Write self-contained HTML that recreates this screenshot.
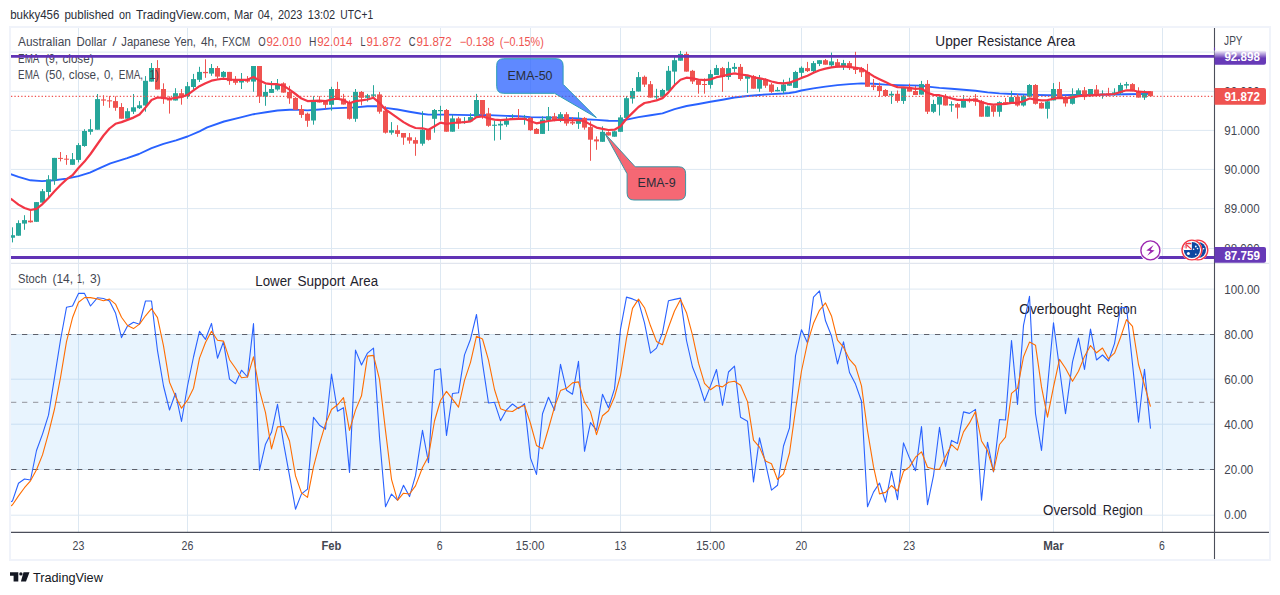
<!DOCTYPE html>
<html lang="en"><head><meta charset="utf-8"><title>AUDJPY 4h chart</title>
<style>html,body{margin:0;padding:0;background:#fff}body{width:1280px;height:595px;overflow:hidden}svg{display:block}text{font-family:"Liberation Sans", Arial, sans-serif}</style></head><body>
<svg width="1280" height="595" viewBox="0 0 1280 595">
<rect width="1280" height="595" fill="#fff"/>
<defs><clipPath id="cm"><rect x="11" y="28" width="1203" height="235.5"/></clipPath><clipPath id="cs"><rect x="11" y="264" width="1203" height="268"/></clipPath><linearGradient id="pg" x1="0" y1="0" x2="0" y2="1"><stop offset="0" stop-color="#fff"/><stop offset="0.55" stop-color="#673ab7"/><stop offset="1" stop-color="#673ab7"/></linearGradient></defs>
<g font-size="12.4" fill="#2a2e39">
<text x="10.2" y="18.8" textLength="49.2" lengthAdjust="spacingAndGlyphs">bukky456</text>
<text x="64.4" y="18.8" textLength="49.6" lengthAdjust="spacingAndGlyphs">published</text>
<text x="119.0" y="18.8" textLength="12.0" lengthAdjust="spacingAndGlyphs">on</text>
<text x="136.0" y="18.8" textLength="93.7" lengthAdjust="spacingAndGlyphs">TradingView.com,</text>
<text x="234.0" y="18.8" textLength="19.0" lengthAdjust="spacingAndGlyphs">Mar</text>
<text x="257.8" y="18.8" textLength="15.2" lengthAdjust="spacingAndGlyphs">04,</text>
<text x="278.0" y="18.8" textLength="24.3" lengthAdjust="spacingAndGlyphs">2023</text>
<text x="307.8" y="18.8" textLength="27.4" lengthAdjust="spacingAndGlyphs">13:02</text>
<text x="340.3" y="18.8" textLength="32.8" lengthAdjust="spacingAndGlyphs">UTC+1</text>
</g>
<line x1="78.5" y1="27.5" x2="78.5" y2="532" stroke="#dde8f2" stroke-width="1"/>
<line x1="187.5" y1="27.5" x2="187.5" y2="532" stroke="#dde8f2" stroke-width="1"/>
<line x1="331.5" y1="27.5" x2="331.5" y2="532" stroke="#dde8f2" stroke-width="1"/>
<line x1="440.5" y1="27.5" x2="440.5" y2="532" stroke="#dde8f2" stroke-width="1"/>
<line x1="530.5" y1="27.5" x2="530.5" y2="532" stroke="#dde8f2" stroke-width="1"/>
<line x1="620.5" y1="27.5" x2="620.5" y2="532" stroke="#dde8f2" stroke-width="1"/>
<line x1="710.5" y1="27.5" x2="710.5" y2="532" stroke="#dde8f2" stroke-width="1"/>
<line x1="801.5" y1="27.5" x2="801.5" y2="532" stroke="#dde8f2" stroke-width="1"/>
<line x1="909.5" y1="27.5" x2="909.5" y2="532" stroke="#dde8f2" stroke-width="1"/>
<line x1="1053.5" y1="27.5" x2="1053.5" y2="532" stroke="#dde8f2" stroke-width="1"/>
<line x1="1162.5" y1="27.5" x2="1162.5" y2="532" stroke="#dde8f2" stroke-width="1"/>
<line x1="11" y1="52.1" x2="1214" y2="52.1" stroke="#dde8f2" stroke-width="1"/>
<line x1="11" y1="91.3" x2="1214" y2="91.3" stroke="#dde8f2" stroke-width="1"/>
<line x1="11" y1="130.4" x2="1214" y2="130.4" stroke="#dde8f2" stroke-width="1"/>
<line x1="11" y1="169.4" x2="1214" y2="169.4" stroke="#dde8f2" stroke-width="1"/>
<line x1="11" y1="208.6" x2="1214" y2="208.6" stroke="#dde8f2" stroke-width="1"/>
<line x1="11" y1="248.5" x2="1214" y2="248.5" stroke="#dde8f2" stroke-width="1"/>
<line x1="11" y1="289.1" x2="1214" y2="289.1" stroke="#dde8f2" stroke-width="1"/>
<line x1="11" y1="334.5" x2="1214" y2="334.5" stroke="#dde8f2" stroke-width="1"/>
<line x1="11" y1="379.2" x2="1214" y2="379.2" stroke="#dde8f2" stroke-width="1"/>
<line x1="11" y1="424.2" x2="1214" y2="424.2" stroke="#dde8f2" stroke-width="1"/>
<line x1="11" y1="469.5" x2="1214" y2="469.5" stroke="#dde8f2" stroke-width="1"/>
<line x1="11" y1="515.2" x2="1214" y2="515.2" stroke="#dde8f2" stroke-width="1"/>
<rect x="11" y="334.5" width="1203.5" height="135" fill="rgba(33,150,243,0.1)"/>
<line x1="11" y1="263.4" x2="1269" y2="263.4" stroke="#e1e5ee" stroke-width="1.2"/>
<line x1="11" y1="334.5" x2="1214" y2="334.5" stroke="#5d606b" stroke-width="1.2" stroke-dasharray="5.3 5.7"/>
<line x1="11" y1="469.5" x2="1214" y2="469.5" stroke="#5d606b" stroke-width="1.2" stroke-dasharray="5.3 5.7"/>
<line x1="11" y1="402.4" x2="1214" y2="402.4" stroke="#a3a6af" stroke-width="1.2" stroke-dasharray="5.3 5.7"/>
<g clip-path="url(#cm)">
<polyline points="6.6,172.7 10.4,174.0 18.5,176.9 30.4,180.3 42.0,181.1 54.5,180.3 66.6,178.6 78.5,176.1 89.9,172.7 100.8,167.6 110.4,163.3 127.2,158.2 139.0,154.0 151.6,148.2 163.5,143.9 176.0,140.3 187.5,136.5 199.5,131.3 207.2,127.4 224.0,121.5 240.8,117.3 253.6,114.2 266.0,112.2 277.5,110.5 289.6,109.8 299.7,109.9 307.4,110.4 319.5,109.5 331.4,108.4 343.5,107.9 355.5,107.4 367.4,106.3 377.5,106.2 385.5,107.9 397.5,109.5 409.4,111.7 421.5,113.7 428.4,114.6 439.7,114.6 446.6,114.6 458.5,114.9 470.4,115.1 482.5,114.9 494.5,115.4 506.6,115.9 518.5,116.3 530.4,117.1 542.5,117.4 554.5,117.6 566.6,117.9 578.5,118.5 584.5,119.2 596.5,119.9 608.6,120.8 614.5,120.9 620.5,120.8 626.6,119.6 638.5,117.1 650.6,115.2 662.5,113.4 674.6,109.2 686.6,106.0 698.5,104.0 710.4,101.8 722.5,99.7 734.5,97.5 747.6,96.0 759.5,95.0 771.6,94.1 783.5,93.5 789.4,93.0 795.6,92.0 801.3,90.5 813.4,88.4 825.4,86.6 837.5,85.1 849.4,84.1 861.5,83.4 873.4,83.7 885.5,84.6 897.5,85.1 909.4,85.4 921.5,85.6 927.6,86.6 939.5,87.9 951.4,88.7 963.5,89.8 975.5,90.8 987.6,92.4 999.5,93.4 1011.6,94.0 1023.5,94.5 1035.5,94.9 1047.6,95.3 1060.5,95.1 1072.4,95.0 1084.5,94.9 1100.0,94.7 1126.0,94.3 1150.4,93.9" fill="none" stroke="#2962ff" stroke-width="1.9" stroke-linejoin="round"/>
<line x1="12.50" y1="227.3" x2="12.50" y2="242.4" stroke="#26a69a" stroke-width="1"/>
<rect x="10.00" y="235.2" width="5" height="2.5" fill="#26a69a"/>
<line x1="18.50" y1="220.3" x2="18.50" y2="235.7" stroke="#26a69a" stroke-width="1"/>
<rect x="16.00" y="223.1" width="5" height="12.6" fill="#26a69a"/>
<line x1="24.50" y1="215.2" x2="24.50" y2="229.8" stroke="#26a69a" stroke-width="1"/>
<rect x="22.00" y="220.1" width="5" height="3.5" fill="#26a69a"/>
<line x1="30.50" y1="210.8" x2="30.50" y2="222.6" stroke="#ef5350" stroke-width="1"/>
<rect x="28.00" y="220.6" width="5" height="1.7" fill="#ef5350"/>
<line x1="36.50" y1="202.1" x2="36.50" y2="221.8" stroke="#26a69a" stroke-width="1"/>
<rect x="34.00" y="202.1" width="5" height="19.7" fill="#26a69a"/>
<line x1="42.50" y1="189.0" x2="42.50" y2="202.6" stroke="#26a69a" stroke-width="1"/>
<rect x="40.00" y="191.2" width="5" height="11.4" fill="#26a69a"/>
<line x1="48.50" y1="175.2" x2="48.50" y2="197.0" stroke="#26a69a" stroke-width="1"/>
<rect x="46.00" y="179.4" width="5" height="12.6" fill="#26a69a"/>
<line x1="54.50" y1="157.9" x2="54.50" y2="184.8" stroke="#26a69a" stroke-width="1"/>
<rect x="52.00" y="157.9" width="5" height="22.7" fill="#26a69a"/>
<line x1="60.50" y1="152.0" x2="60.50" y2="161.4" stroke="#ef5350" stroke-width="1"/>
<rect x="58.00" y="157.9" width="5" height="1.0" fill="#ef5350"/>
<line x1="66.50" y1="155.0" x2="66.50" y2="164.8" stroke="#ef5350" stroke-width="1"/>
<rect x="64.00" y="158.7" width="5" height="1.0" fill="#ef5350"/>
<line x1="72.50" y1="153.0" x2="72.50" y2="164.8" stroke="#26a69a" stroke-width="1"/>
<rect x="70.00" y="159.2" width="5" height="5.6" fill="#26a69a"/>
<line x1="78.50" y1="143.1" x2="78.50" y2="162.4" stroke="#26a69a" stroke-width="1"/>
<rect x="76.00" y="145.1" width="5" height="14.8" fill="#26a69a"/>
<line x1="84.50" y1="129.2" x2="84.50" y2="146.8" stroke="#26a69a" stroke-width="1"/>
<rect x="82.00" y="131.0" width="5" height="15.0" fill="#26a69a"/>
<line x1="90.50" y1="119.2" x2="90.50" y2="134.7" stroke="#26a69a" stroke-width="1"/>
<rect x="88.00" y="129.2" width="5" height="2.6" fill="#26a69a"/>
<line x1="97.50" y1="94.0" x2="97.50" y2="129.7" stroke="#26a69a" stroke-width="1"/>
<rect x="95.00" y="99.1" width="5" height="30.6" fill="#26a69a"/>
<line x1="103.50" y1="95.2" x2="103.50" y2="105.8" stroke="#ef5350" stroke-width="1"/>
<rect x="101.00" y="99.4" width="5" height="1.2" fill="#ef5350"/>
<line x1="109.50" y1="96.0" x2="109.50" y2="107.8" stroke="#ef5350" stroke-width="1"/>
<rect x="107.00" y="100.3" width="5" height="1.1" fill="#ef5350"/>
<line x1="115.50" y1="96.4" x2="115.50" y2="110.8" stroke="#ef5350" stroke-width="1"/>
<rect x="113.00" y="101.1" width="5" height="6.7" fill="#ef5350"/>
<line x1="121.50" y1="103.1" x2="121.50" y2="118.7" stroke="#ef5350" stroke-width="1"/>
<rect x="119.00" y="107.0" width="5" height="11.7" fill="#ef5350"/>
<line x1="127.50" y1="108.2" x2="127.50" y2="118.7" stroke="#26a69a" stroke-width="1"/>
<rect x="125.00" y="111.2" width="5" height="7.5" fill="#26a69a"/>
<line x1="133.50" y1="94.0" x2="133.50" y2="114.0" stroke="#26a69a" stroke-width="1"/>
<rect x="131.00" y="107.3" width="5" height="4.4" fill="#26a69a"/>
<line x1="139.50" y1="101.1" x2="139.50" y2="109.0" stroke="#26a69a" stroke-width="1"/>
<rect x="137.00" y="105.3" width="5" height="2.9" fill="#26a69a"/>
<line x1="145.50" y1="76.1" x2="145.50" y2="111.7" stroke="#26a69a" stroke-width="1"/>
<rect x="143.00" y="80.8" width="5" height="24.7" fill="#26a69a"/>
<line x1="151.50" y1="63.0" x2="151.50" y2="81.6" stroke="#26a69a" stroke-width="1"/>
<rect x="149.00" y="68.0" width="5" height="13.6" fill="#26a69a"/>
<line x1="157.50" y1="60.1" x2="157.50" y2="89.5" stroke="#ef5350" stroke-width="1"/>
<rect x="155.00" y="68.0" width="5" height="21.5" fill="#ef5350"/>
<line x1="163.50" y1="83.3" x2="163.50" y2="103.8" stroke="#ef5350" stroke-width="1"/>
<rect x="161.00" y="89.0" width="5" height="10.1" fill="#ef5350"/>
<line x1="169.50" y1="96.3" x2="169.50" y2="113.6" stroke="#ef5350" stroke-width="1"/>
<rect x="167.00" y="98.0" width="5" height="2.5" fill="#ef5350"/>
<line x1="175.50" y1="88.2" x2="175.50" y2="100.5" stroke="#26a69a" stroke-width="1"/>
<rect x="173.00" y="93.2" width="5" height="7.3" fill="#26a69a"/>
<line x1="181.50" y1="89.0" x2="181.50" y2="104.7" stroke="#ef5350" stroke-width="1"/>
<rect x="179.00" y="93.2" width="5" height="4.2" fill="#ef5350"/>
<line x1="187.50" y1="82.0" x2="187.50" y2="98.8" stroke="#26a69a" stroke-width="1"/>
<rect x="185.00" y="86.2" width="5" height="10.1" fill="#26a69a"/>
<line x1="193.50" y1="73.9" x2="193.50" y2="89.5" stroke="#26a69a" stroke-width="1"/>
<rect x="191.00" y="79.1" width="5" height="7.9" fill="#26a69a"/>
<line x1="199.50" y1="66.8" x2="199.50" y2="82.0" stroke="#26a69a" stroke-width="1"/>
<rect x="197.00" y="71.9" width="5" height="7.9" fill="#26a69a"/>
<line x1="205.50" y1="59.3" x2="205.50" y2="77.8" stroke="#ef5350" stroke-width="1"/>
<rect x="203.00" y="71.9" width="5" height="1.3" fill="#ef5350"/>
<line x1="211.50" y1="64.0" x2="211.50" y2="75.8" stroke="#26a69a" stroke-width="1"/>
<rect x="209.00" y="68.0" width="5" height="5.6" fill="#26a69a"/>
<line x1="217.50" y1="66.0" x2="217.50" y2="78.6" stroke="#ef5350" stroke-width="1"/>
<rect x="215.00" y="68.0" width="5" height="8.6" fill="#ef5350"/>
<line x1="223.50" y1="71.0" x2="223.50" y2="77.8" stroke="#26a69a" stroke-width="1"/>
<rect x="221.00" y="71.9" width="5" height="5.0" fill="#26a69a"/>
<line x1="229.50" y1="71.9" x2="229.50" y2="84.8" stroke="#ef5350" stroke-width="1"/>
<rect x="227.00" y="71.9" width="5" height="9.2" fill="#ef5350"/>
<line x1="235.50" y1="76.1" x2="235.50" y2="84.8" stroke="#ef5350" stroke-width="1"/>
<rect x="233.00" y="79.8" width="5" height="3.0" fill="#ef5350"/>
<line x1="241.50" y1="73.0" x2="241.50" y2="89.0" stroke="#26a69a" stroke-width="1"/>
<rect x="239.00" y="80.3" width="5" height="2.2" fill="#26a69a"/>
<line x1="247.50" y1="76.1" x2="247.50" y2="82.8" stroke="#ef5350" stroke-width="1"/>
<rect x="245.00" y="79.5" width="5" height="2.1" fill="#ef5350"/>
<line x1="253.50" y1="66.0" x2="253.50" y2="91.7" stroke="#26a69a" stroke-width="1"/>
<rect x="251.00" y="66.0" width="5" height="15.6" fill="#26a69a"/>
<line x1="259.50" y1="66.0" x2="259.50" y2="103.0" stroke="#ef5350" stroke-width="1"/>
<rect x="257.00" y="66.0" width="5" height="30.6" fill="#ef5350"/>
<line x1="265.50" y1="84.5" x2="265.50" y2="105.8" stroke="#26a69a" stroke-width="1"/>
<rect x="263.00" y="92.0" width="5" height="4.6" fill="#26a69a"/>
<line x1="271.50" y1="81.1" x2="271.50" y2="92.9" stroke="#26a69a" stroke-width="1"/>
<rect x="269.00" y="89.0" width="5" height="3.9" fill="#26a69a"/>
<line x1="277.50" y1="79.0" x2="277.50" y2="90.7" stroke="#26a69a" stroke-width="1"/>
<rect x="275.00" y="84.0" width="5" height="5.5" fill="#26a69a"/>
<line x1="283.50" y1="82.3" x2="283.50" y2="92.6" stroke="#ef5350" stroke-width="1"/>
<rect x="281.00" y="83.3" width="5" height="9.3" fill="#ef5350"/>
<line x1="289.50" y1="85.8" x2="289.50" y2="103.8" stroke="#ef5350" stroke-width="1"/>
<rect x="287.00" y="92.0" width="5" height="6.4" fill="#ef5350"/>
<line x1="295.50" y1="97.1" x2="295.50" y2="109.7" stroke="#ef5350" stroke-width="1"/>
<rect x="293.00" y="97.9" width="5" height="11.8" fill="#ef5350"/>
<line x1="301.50" y1="105.0" x2="301.50" y2="117.9" stroke="#ef5350" stroke-width="1"/>
<rect x="299.00" y="109.0" width="5" height="5.9" fill="#ef5350"/>
<line x1="307.50" y1="112.6" x2="307.50" y2="126.8" stroke="#ef5350" stroke-width="1"/>
<rect x="305.00" y="113.7" width="5" height="7.1" fill="#ef5350"/>
<line x1="313.50" y1="96.1" x2="313.50" y2="124.7" stroke="#26a69a" stroke-width="1"/>
<rect x="311.00" y="101.6" width="5" height="18.9" fill="#26a69a"/>
<line x1="319.50" y1="96.1" x2="319.50" y2="102.5" stroke="#ef5350" stroke-width="1"/>
<rect x="317.00" y="100.3" width="5" height="2.2" fill="#ef5350"/>
<line x1="325.50" y1="100.3" x2="325.50" y2="108.7" stroke="#ef5350" stroke-width="1"/>
<rect x="323.00" y="101.1" width="5" height="3.7" fill="#ef5350"/>
<line x1="331.50" y1="86.8" x2="331.50" y2="110.7" stroke="#26a69a" stroke-width="1"/>
<rect x="329.00" y="89.0" width="5" height="15.8" fill="#26a69a"/>
<line x1="337.50" y1="81.8" x2="337.50" y2="98.6" stroke="#ef5350" stroke-width="1"/>
<rect x="335.00" y="89.0" width="5" height="9.6" fill="#ef5350"/>
<line x1="343.50" y1="93.9" x2="343.50" y2="104.5" stroke="#ef5350" stroke-width="1"/>
<rect x="341.00" y="98.6" width="5" height="5.9" fill="#ef5350"/>
<line x1="349.50" y1="100.3" x2="349.50" y2="119.6" stroke="#ef5350" stroke-width="1"/>
<rect x="347.00" y="102.8" width="5" height="16.0" fill="#ef5350"/>
<line x1="355.50" y1="89.0" x2="355.50" y2="121.8" stroke="#26a69a" stroke-width="1"/>
<rect x="353.00" y="91.9" width="5" height="26.9" fill="#26a69a"/>
<line x1="361.50" y1="91.0" x2="361.50" y2="105.3" stroke="#ef5350" stroke-width="1"/>
<rect x="359.00" y="91.9" width="5" height="5.9" fill="#ef5350"/>
<line x1="367.50" y1="93.9" x2="367.50" y2="101.6" stroke="#26a69a" stroke-width="1"/>
<rect x="365.00" y="95.3" width="5" height="2.5" fill="#26a69a"/>
<line x1="373.50" y1="85.2" x2="373.50" y2="97.8" stroke="#26a69a" stroke-width="1"/>
<rect x="371.00" y="94.4" width="5" height="1.4" fill="#26a69a"/>
<line x1="379.50" y1="91.9" x2="379.50" y2="113.7" stroke="#ef5350" stroke-width="1"/>
<rect x="377.00" y="94.4" width="5" height="17.3" fill="#ef5350"/>
<line x1="385.50" y1="106.2" x2="385.50" y2="133.6" stroke="#ef5350" stroke-width="1"/>
<rect x="383.00" y="110.7" width="5" height="22.0" fill="#ef5350"/>
<line x1="391.50" y1="122.1" x2="391.50" y2="134.7" stroke="#26a69a" stroke-width="1"/>
<rect x="389.00" y="130.2" width="5" height="2.5" fill="#26a69a"/>
<line x1="397.50" y1="125.2" x2="397.50" y2="136.8" stroke="#ef5350" stroke-width="1"/>
<rect x="395.00" y="130.2" width="5" height="3.7" fill="#ef5350"/>
<line x1="403.50" y1="133.0" x2="403.50" y2="144.8" stroke="#ef5350" stroke-width="1"/>
<rect x="401.00" y="133.0" width="5" height="4.6" fill="#ef5350"/>
<line x1="409.50" y1="133.0" x2="409.50" y2="143.7" stroke="#ef5350" stroke-width="1"/>
<rect x="407.00" y="137.3" width="5" height="3.3" fill="#ef5350"/>
<line x1="415.50" y1="137.3" x2="415.50" y2="155.8" stroke="#ef5350" stroke-width="1"/>
<rect x="413.00" y="140.1" width="5" height="3.6" fill="#ef5350"/>
<line x1="422.50" y1="111.2" x2="422.50" y2="145.7" stroke="#26a69a" stroke-width="1"/>
<rect x="420.00" y="129.7" width="5" height="14.0" fill="#26a69a"/>
<line x1="428.50" y1="129.7" x2="428.50" y2="140.6" stroke="#ef5350" stroke-width="1"/>
<rect x="426.00" y="129.7" width="5" height="10.1" fill="#ef5350"/>
<line x1="434.50" y1="109.0" x2="434.50" y2="132.7" stroke="#26a69a" stroke-width="1"/>
<rect x="432.00" y="110.0" width="5" height="8.8" fill="#26a69a"/>
<line x1="440.50" y1="105.8" x2="440.50" y2="120.5" stroke="#26a69a" stroke-width="1"/>
<rect x="438.00" y="110.0" width="5" height="1.2" fill="#26a69a"/>
<line x1="446.50" y1="109.0" x2="446.50" y2="131.7" stroke="#ef5350" stroke-width="1"/>
<rect x="444.00" y="110.0" width="5" height="21.7" fill="#ef5350"/>
<line x1="452.50" y1="114.9" x2="452.50" y2="131.7" stroke="#26a69a" stroke-width="1"/>
<rect x="450.00" y="118.4" width="5" height="13.3" fill="#26a69a"/>
<line x1="458.50" y1="116.8" x2="458.50" y2="128.9" stroke="#ef5350" stroke-width="1"/>
<rect x="456.00" y="118.4" width="5" height="5.1" fill="#ef5350"/>
<line x1="464.50" y1="117.1" x2="464.50" y2="123.8" stroke="#26a69a" stroke-width="1"/>
<rect x="462.00" y="121.3" width="5" height="1.3" fill="#26a69a"/>
<line x1="470.50" y1="113.2" x2="470.50" y2="121.3" stroke="#26a69a" stroke-width="1"/>
<rect x="468.00" y="117.1" width="5" height="4.2" fill="#26a69a"/>
<line x1="476.50" y1="93.9" x2="476.50" y2="116.8" stroke="#26a69a" stroke-width="1"/>
<rect x="474.00" y="100.0" width="5" height="16.8" fill="#26a69a"/>
<line x1="482.50" y1="100.0" x2="482.50" y2="118.8" stroke="#ef5350" stroke-width="1"/>
<rect x="480.00" y="100.0" width="5" height="14.6" fill="#ef5350"/>
<line x1="488.50" y1="107.9" x2="488.50" y2="126.8" stroke="#ef5350" stroke-width="1"/>
<rect x="486.00" y="113.4" width="5" height="12.4" fill="#ef5350"/>
<line x1="494.50" y1="120.5" x2="494.50" y2="140.6" stroke="#26a69a" stroke-width="1"/>
<rect x="492.00" y="124.7" width="5" height="1.1" fill="#26a69a"/>
<line x1="500.50" y1="121.0" x2="500.50" y2="139.8" stroke="#26a69a" stroke-width="1"/>
<rect x="498.00" y="123.8" width="5" height="1.7" fill="#26a69a"/>
<line x1="506.50" y1="117.1" x2="506.50" y2="126.8" stroke="#26a69a" stroke-width="1"/>
<rect x="504.00" y="120.5" width="5" height="4.2" fill="#26a69a"/>
<line x1="512.50" y1="114.2" x2="512.50" y2="119.1" stroke="#26a69a" stroke-width="1"/>
<rect x="510.00" y="117.9" width="5" height="1.2" fill="#26a69a"/>
<line x1="518.50" y1="109.0" x2="518.50" y2="119.1" stroke="#ef5350" stroke-width="1"/>
<rect x="516.00" y="117.9" width="5" height="1.2" fill="#ef5350"/>
<line x1="524.50" y1="114.9" x2="524.50" y2="124.7" stroke="#26a69a" stroke-width="1"/>
<rect x="522.00" y="117.9" width="5" height="1.0" fill="#26a69a"/>
<line x1="530.50" y1="117.1" x2="530.50" y2="130.9" stroke="#ef5350" stroke-width="1"/>
<rect x="528.00" y="117.9" width="5" height="12.3" fill="#ef5350"/>
<line x1="536.50" y1="128.0" x2="536.50" y2="133.9" stroke="#ef5350" stroke-width="1"/>
<rect x="534.00" y="128.9" width="5" height="5.0" fill="#ef5350"/>
<line x1="542.50" y1="116.3" x2="542.50" y2="133.9" stroke="#26a69a" stroke-width="1"/>
<rect x="540.00" y="119.6" width="5" height="14.3" fill="#26a69a"/>
<line x1="548.50" y1="107.0" x2="548.50" y2="130.9" stroke="#26a69a" stroke-width="1"/>
<rect x="546.00" y="116.3" width="5" height="4.2" fill="#26a69a"/>
<line x1="554.50" y1="112.9" x2="554.50" y2="121.3" stroke="#ef5350" stroke-width="1"/>
<rect x="552.00" y="116.3" width="5" height="4.5" fill="#ef5350"/>
<line x1="560.50" y1="112.1" x2="560.50" y2="122.1" stroke="#26a69a" stroke-width="1"/>
<rect x="558.00" y="114.2" width="5" height="5.4" fill="#26a69a"/>
<line x1="566.50" y1="112.1" x2="566.50" y2="125.8" stroke="#ef5350" stroke-width="1"/>
<rect x="564.00" y="114.2" width="5" height="9.3" fill="#ef5350"/>
<line x1="572.50" y1="117.1" x2="572.50" y2="125.0" stroke="#ef5350" stroke-width="1"/>
<rect x="570.00" y="122.1" width="5" height="1.4" fill="#ef5350"/>
<line x1="578.50" y1="112.1" x2="578.50" y2="128.9" stroke="#26a69a" stroke-width="1"/>
<rect x="576.00" y="119.6" width="5" height="4.2" fill="#26a69a"/>
<line x1="584.50" y1="117.1" x2="584.50" y2="129.7" stroke="#ef5350" stroke-width="1"/>
<rect x="582.00" y="117.9" width="5" height="9.7" fill="#ef5350"/>
<line x1="590.50" y1="121.3" x2="590.50" y2="160.8" stroke="#ef5350" stroke-width="1"/>
<rect x="588.00" y="127.1" width="5" height="12.6" fill="#ef5350"/>
<line x1="596.50" y1="136.4" x2="596.50" y2="149.8" stroke="#ef5350" stroke-width="1"/>
<rect x="594.00" y="139.4" width="5" height="2.0" fill="#ef5350"/>
<line x1="602.50" y1="126.3" x2="602.50" y2="141.8" stroke="#26a69a" stroke-width="1"/>
<rect x="600.00" y="131.8" width="5" height="10.0" fill="#26a69a"/>
<line x1="608.50" y1="131.3" x2="608.50" y2="135.5" stroke="#ef5350" stroke-width="1"/>
<rect x="606.00" y="132.2" width="5" height="3.3" fill="#ef5350"/>
<line x1="614.50" y1="130.8" x2="614.50" y2="136.7" stroke="#26a69a" stroke-width="1"/>
<rect x="612.00" y="131.3" width="5" height="5.4" fill="#26a69a"/>
<line x1="620.50" y1="115.0" x2="620.50" y2="131.8" stroke="#26a69a" stroke-width="1"/>
<rect x="618.00" y="117.4" width="5" height="14.4" fill="#26a69a"/>
<line x1="626.50" y1="96.0" x2="626.50" y2="117.9" stroke="#26a69a" stroke-width="1"/>
<rect x="624.00" y="98.2" width="5" height="19.7" fill="#26a69a"/>
<line x1="632.50" y1="88.0" x2="632.50" y2="103.6" stroke="#26a69a" stroke-width="1"/>
<rect x="630.00" y="91.0" width="5" height="7.6" fill="#26a69a"/>
<line x1="638.50" y1="72.0" x2="638.50" y2="91.5" stroke="#26a69a" stroke-width="1"/>
<rect x="636.00" y="77.1" width="5" height="14.4" fill="#26a69a"/>
<line x1="644.50" y1="75.5" x2="644.50" y2="87.0" stroke="#ef5350" stroke-width="1"/>
<rect x="642.00" y="76.8" width="5" height="7.8" fill="#ef5350"/>
<line x1="650.50" y1="81.0" x2="650.50" y2="97.6" stroke="#ef5350" stroke-width="1"/>
<rect x="648.00" y="84.2" width="5" height="13.4" fill="#ef5350"/>
<line x1="656.50" y1="88.8" x2="656.50" y2="99.2" stroke="#26a69a" stroke-width="1"/>
<rect x="654.00" y="96.0" width="5" height="1.4" fill="#26a69a"/>
<line x1="662.50" y1="88.8" x2="662.50" y2="97.1" stroke="#26a69a" stroke-width="1"/>
<rect x="660.00" y="90.0" width="5" height="7.1" fill="#26a69a"/>
<line x1="668.50" y1="66.0" x2="668.50" y2="90.7" stroke="#26a69a" stroke-width="1"/>
<rect x="666.00" y="70.8" width="5" height="19.9" fill="#26a69a"/>
<line x1="674.50" y1="55.1" x2="674.50" y2="84.0" stroke="#26a69a" stroke-width="1"/>
<rect x="672.00" y="60.2" width="5" height="11.4" fill="#26a69a"/>
<line x1="680.50" y1="50.9" x2="680.50" y2="60.7" stroke="#26a69a" stroke-width="1"/>
<rect x="678.00" y="53.9" width="5" height="6.8" fill="#26a69a"/>
<line x1="686.50" y1="51.8" x2="686.50" y2="71.6" stroke="#ef5350" stroke-width="1"/>
<rect x="684.00" y="53.9" width="5" height="17.7" fill="#ef5350"/>
<line x1="692.50" y1="69.9" x2="692.50" y2="84.0" stroke="#ef5350" stroke-width="1"/>
<rect x="690.00" y="70.8" width="5" height="10.7" fill="#ef5350"/>
<line x1="698.50" y1="79.5" x2="698.50" y2="93.7" stroke="#ef5350" stroke-width="1"/>
<rect x="696.00" y="80.2" width="5" height="4.7" fill="#ef5350"/>
<line x1="704.50" y1="78.3" x2="704.50" y2="93.7" stroke="#ef5350" stroke-width="1"/>
<rect x="702.00" y="84.0" width="5" height="1.0" fill="#ef5350"/>
<line x1="710.50" y1="69.9" x2="710.50" y2="88.6" stroke="#26a69a" stroke-width="1"/>
<rect x="708.00" y="74.1" width="5" height="10.8" fill="#26a69a"/>
<line x1="716.50" y1="64.9" x2="716.50" y2="75.0" stroke="#26a69a" stroke-width="1"/>
<rect x="714.00" y="68.1" width="5" height="6.9" fill="#26a69a"/>
<line x1="722.50" y1="66.9" x2="722.50" y2="91.8" stroke="#ef5350" stroke-width="1"/>
<rect x="720.00" y="68.1" width="5" height="8.9" fill="#ef5350"/>
<line x1="728.50" y1="61.8" x2="728.50" y2="79.8" stroke="#26a69a" stroke-width="1"/>
<rect x="726.00" y="68.1" width="5" height="8.9" fill="#26a69a"/>
<line x1="734.50" y1="63.0" x2="734.50" y2="71.9" stroke="#26a69a" stroke-width="1"/>
<rect x="732.00" y="66.9" width="5" height="2.0" fill="#26a69a"/>
<line x1="740.50" y1="64.0" x2="740.50" y2="80.8" stroke="#ef5350" stroke-width="1"/>
<rect x="738.00" y="66.9" width="5" height="12.1" fill="#ef5350"/>
<line x1="747.50" y1="75.3" x2="747.50" y2="92.9" stroke="#26a69a" stroke-width="1"/>
<rect x="745.00" y="76.1" width="5" height="2.6" fill="#26a69a"/>
<line x1="753.50" y1="75.0" x2="753.50" y2="88.7" stroke="#ef5350" stroke-width="1"/>
<rect x="751.00" y="76.1" width="5" height="12.6" fill="#ef5350"/>
<line x1="759.50" y1="75.0" x2="759.50" y2="91.8" stroke="#26a69a" stroke-width="1"/>
<rect x="757.00" y="78.7" width="5" height="10.0" fill="#26a69a"/>
<line x1="765.50" y1="78.3" x2="765.50" y2="87.9" stroke="#ef5350" stroke-width="1"/>
<rect x="763.00" y="79.0" width="5" height="6.7" fill="#ef5350"/>
<line x1="771.50" y1="82.9" x2="771.50" y2="92.9" stroke="#ef5350" stroke-width="1"/>
<rect x="769.00" y="84.5" width="5" height="7.3" fill="#ef5350"/>
<line x1="777.50" y1="87.1" x2="777.50" y2="91.3" stroke="#26a69a" stroke-width="1"/>
<rect x="775.00" y="89.9" width="5" height="1.4" fill="#26a69a"/>
<line x1="783.50" y1="79.6" x2="783.50" y2="93.8" stroke="#26a69a" stroke-width="1"/>
<rect x="781.00" y="84.5" width="5" height="6.6" fill="#26a69a"/>
<line x1="789.50" y1="77.8" x2="789.50" y2="85.7" stroke="#26a69a" stroke-width="1"/>
<rect x="787.00" y="82.9" width="5" height="2.8" fill="#26a69a"/>
<line x1="795.50" y1="70.8" x2="795.50" y2="87.9" stroke="#26a69a" stroke-width="1"/>
<rect x="793.00" y="72.0" width="5" height="15.9" fill="#26a69a"/>
<line x1="801.50" y1="66.4" x2="801.50" y2="77.0" stroke="#26a69a" stroke-width="1"/>
<rect x="799.00" y="67.8" width="5" height="5.0" fill="#26a69a"/>
<line x1="807.50" y1="61.9" x2="807.50" y2="72.0" stroke="#ef5350" stroke-width="1"/>
<rect x="805.00" y="68.1" width="5" height="3.0" fill="#ef5350"/>
<line x1="813.50" y1="61.1" x2="813.50" y2="72.8" stroke="#26a69a" stroke-width="1"/>
<rect x="811.00" y="63.1" width="5" height="8.0" fill="#26a69a"/>
<line x1="819.50" y1="60.2" x2="819.50" y2="66.1" stroke="#26a69a" stroke-width="1"/>
<rect x="817.00" y="60.2" width="5" height="3.7" fill="#26a69a"/>
<line x1="825.50" y1="59.0" x2="825.50" y2="64.7" stroke="#ef5350" stroke-width="1"/>
<rect x="823.00" y="60.2" width="5" height="4.5" fill="#ef5350"/>
<line x1="831.50" y1="52.6" x2="831.50" y2="67.3" stroke="#26a69a" stroke-width="1"/>
<rect x="829.00" y="61.4" width="5" height="3.9" fill="#26a69a"/>
<line x1="837.50" y1="59.0" x2="837.50" y2="67.3" stroke="#ef5350" stroke-width="1"/>
<rect x="835.00" y="62.2" width="5" height="5.1" fill="#ef5350"/>
<line x1="843.50" y1="59.9" x2="843.50" y2="70.0" stroke="#26a69a" stroke-width="1"/>
<rect x="841.00" y="63.1" width="5" height="3.3" fill="#26a69a"/>
<line x1="849.50" y1="61.1" x2="849.50" y2="70.0" stroke="#ef5350" stroke-width="1"/>
<rect x="847.00" y="63.1" width="5" height="5.0" fill="#ef5350"/>
<line x1="855.50" y1="51.8" x2="855.50" y2="74.0" stroke="#ef5350" stroke-width="1"/>
<rect x="853.00" y="66.9" width="5" height="3.1" fill="#ef5350"/>
<line x1="861.50" y1="66.9" x2="861.50" y2="77.0" stroke="#ef5350" stroke-width="1"/>
<rect x="859.00" y="68.1" width="5" height="4.2" fill="#ef5350"/>
<line x1="867.50" y1="63.9" x2="867.50" y2="86.8" stroke="#ef5350" stroke-width="1"/>
<rect x="865.00" y="72.0" width="5" height="14.8" fill="#ef5350"/>
<line x1="873.50" y1="79.0" x2="873.50" y2="90.1" stroke="#ef5350" stroke-width="1"/>
<rect x="871.00" y="85.4" width="5" height="1.7" fill="#ef5350"/>
<line x1="879.50" y1="82.6" x2="879.50" y2="96.8" stroke="#ef5350" stroke-width="1"/>
<rect x="877.00" y="85.9" width="5" height="5.1" fill="#ef5350"/>
<line x1="885.50" y1="89.1" x2="885.50" y2="96.0" stroke="#ef5350" stroke-width="1"/>
<rect x="883.00" y="90.0" width="5" height="6.0" fill="#ef5350"/>
<line x1="891.50" y1="91.3" x2="891.50" y2="103.9" stroke="#26a69a" stroke-width="1"/>
<rect x="889.00" y="93.8" width="5" height="1.7" fill="#26a69a"/>
<line x1="897.50" y1="90.5" x2="897.50" y2="102.7" stroke="#ef5350" stroke-width="1"/>
<rect x="895.00" y="93.8" width="5" height="7.1" fill="#ef5350"/>
<line x1="903.50" y1="87.9" x2="903.50" y2="103.9" stroke="#26a69a" stroke-width="1"/>
<rect x="901.00" y="87.9" width="5" height="13.0" fill="#26a69a"/>
<line x1="909.50" y1="83.7" x2="909.50" y2="91.6" stroke="#ef5350" stroke-width="1"/>
<rect x="907.00" y="87.6" width="5" height="4.0" fill="#ef5350"/>
<line x1="915.50" y1="85.9" x2="915.50" y2="95.0" stroke="#ef5350" stroke-width="1"/>
<rect x="913.00" y="91.0" width="5" height="4.0" fill="#ef5350"/>
<line x1="921.50" y1="80.9" x2="921.50" y2="94.6" stroke="#26a69a" stroke-width="1"/>
<rect x="919.00" y="84.1" width="5" height="10.5" fill="#26a69a"/>
<line x1="927.50" y1="80.1" x2="927.50" y2="114.0" stroke="#ef5350" stroke-width="1"/>
<rect x="925.00" y="83.9" width="5" height="27.8" fill="#ef5350"/>
<line x1="933.50" y1="99.8" x2="933.50" y2="113.1" stroke="#26a69a" stroke-width="1"/>
<rect x="931.00" y="104.0" width="5" height="7.8" fill="#26a69a"/>
<line x1="939.50" y1="95.0" x2="939.50" y2="115.5" stroke="#26a69a" stroke-width="1"/>
<rect x="937.00" y="96.6" width="5" height="8.0" fill="#26a69a"/>
<line x1="945.50" y1="94.0" x2="945.50" y2="105.5" stroke="#ef5350" stroke-width="1"/>
<rect x="943.00" y="96.2" width="5" height="9.3" fill="#ef5350"/>
<line x1="951.50" y1="101.3" x2="951.50" y2="111.8" stroke="#26a69a" stroke-width="1"/>
<rect x="949.00" y="104.1" width="5" height="1.4" fill="#26a69a"/>
<line x1="957.50" y1="102.9" x2="957.50" y2="118.6" stroke="#ef5350" stroke-width="1"/>
<rect x="955.00" y="104.1" width="5" height="3.5" fill="#ef5350"/>
<line x1="963.50" y1="95.0" x2="963.50" y2="107.6" stroke="#26a69a" stroke-width="1"/>
<rect x="961.00" y="100.9" width="5" height="6.7" fill="#26a69a"/>
<line x1="969.50" y1="97.6" x2="969.50" y2="102.6" stroke="#ef5350" stroke-width="1"/>
<rect x="967.00" y="99.9" width="5" height="1.4" fill="#ef5350"/>
<line x1="975.50" y1="94.0" x2="975.50" y2="105.8" stroke="#ef5350" stroke-width="1"/>
<rect x="973.00" y="98.4" width="5" height="3.4" fill="#ef5350"/>
<line x1="981.50" y1="99.9" x2="981.50" y2="116.7" stroke="#ef5350" stroke-width="1"/>
<rect x="979.00" y="101.3" width="5" height="15.4" fill="#ef5350"/>
<line x1="987.50" y1="105.5" x2="987.50" y2="116.7" stroke="#26a69a" stroke-width="1"/>
<rect x="985.00" y="106.3" width="5" height="10.4" fill="#26a69a"/>
<line x1="993.50" y1="104.6" x2="993.50" y2="116.7" stroke="#ef5350" stroke-width="1"/>
<rect x="991.00" y="105.5" width="5" height="6.3" fill="#ef5350"/>
<line x1="999.50" y1="101.3" x2="999.50" y2="116.7" stroke="#26a69a" stroke-width="1"/>
<rect x="997.00" y="102.1" width="5" height="9.7" fill="#26a69a"/>
<line x1="1005.50" y1="97.9" x2="1005.50" y2="104.1" stroke="#ef5350" stroke-width="1"/>
<rect x="1003.00" y="102.1" width="5" height="2.0" fill="#ef5350"/>
<line x1="1011.50" y1="90.8" x2="1011.50" y2="102.9" stroke="#26a69a" stroke-width="1"/>
<rect x="1009.00" y="97.1" width="5" height="5.8" fill="#26a69a"/>
<line x1="1017.50" y1="94.0" x2="1017.50" y2="106.6" stroke="#ef5350" stroke-width="1"/>
<rect x="1015.00" y="96.7" width="5" height="8.8" fill="#ef5350"/>
<line x1="1023.50" y1="94.5" x2="1023.50" y2="106.6" stroke="#26a69a" stroke-width="1"/>
<rect x="1021.00" y="96.2" width="5" height="9.3" fill="#26a69a"/>
<line x1="1029.50" y1="84.1" x2="1029.50" y2="96.7" stroke="#26a69a" stroke-width="1"/>
<rect x="1027.00" y="85.0" width="5" height="11.7" fill="#26a69a"/>
<line x1="1035.50" y1="84.1" x2="1035.50" y2="104.6" stroke="#ef5350" stroke-width="1"/>
<rect x="1033.00" y="85.0" width="5" height="18.8" fill="#ef5350"/>
<line x1="1041.50" y1="102.1" x2="1041.50" y2="108.5" stroke="#ef5350" stroke-width="1"/>
<rect x="1039.00" y="102.9" width="5" height="5.6" fill="#ef5350"/>
<line x1="1047.50" y1="100.9" x2="1047.50" y2="118.6" stroke="#26a69a" stroke-width="1"/>
<rect x="1045.00" y="101.3" width="5" height="7.5" fill="#26a69a"/>
<line x1="1053.50" y1="83.1" x2="1053.50" y2="100.4" stroke="#26a69a" stroke-width="1"/>
<rect x="1051.00" y="89.0" width="5" height="11.4" fill="#26a69a"/>
<line x1="1059.50" y1="81.9" x2="1059.50" y2="97.6" stroke="#ef5350" stroke-width="1"/>
<rect x="1057.00" y="89.0" width="5" height="8.6" fill="#ef5350"/>
<line x1="1065.50" y1="95.7" x2="1065.50" y2="106.6" stroke="#ef5350" stroke-width="1"/>
<rect x="1063.00" y="96.7" width="5" height="6.7" fill="#ef5350"/>
<line x1="1072.50" y1="88.3" x2="1072.50" y2="104.6" stroke="#26a69a" stroke-width="1"/>
<rect x="1070.00" y="94.5" width="5" height="9.3" fill="#26a69a"/>
<line x1="1078.50" y1="88.3" x2="1078.50" y2="95.4" stroke="#26a69a" stroke-width="1"/>
<rect x="1076.00" y="90.3" width="5" height="5.1" fill="#26a69a"/>
<line x1="1084.50" y1="87.0" x2="1084.50" y2="99.9" stroke="#ef5350" stroke-width="1"/>
<rect x="1082.00" y="90.3" width="5" height="6.8" fill="#ef5350"/>
<line x1="1090.50" y1="89.0" x2="1090.50" y2="96.7" stroke="#26a69a" stroke-width="1"/>
<rect x="1088.00" y="89.0" width="5" height="6.7" fill="#26a69a"/>
<line x1="1096.50" y1="85.0" x2="1096.50" y2="96.2" stroke="#ef5350" stroke-width="1"/>
<rect x="1094.00" y="89.5" width="5" height="6.7" fill="#ef5350"/>
<line x1="1102.50" y1="90.3" x2="1102.50" y2="98.7" stroke="#26a69a" stroke-width="1"/>
<rect x="1100.00" y="93.7" width="5" height="1.2" fill="#26a69a"/>
<line x1="1108.50" y1="87.8" x2="1108.50" y2="96.2" stroke="#ef5350" stroke-width="1"/>
<rect x="1106.00" y="93.4" width="5" height="1.6" fill="#ef5350"/>
<line x1="1114.50" y1="88.3" x2="1114.50" y2="95.7" stroke="#26a69a" stroke-width="1"/>
<rect x="1112.00" y="92.4" width="5" height="2.1" fill="#26a69a"/>
<line x1="1120.50" y1="82.8" x2="1120.50" y2="95.0" stroke="#26a69a" stroke-width="1"/>
<rect x="1118.00" y="85.0" width="5" height="7.9" fill="#26a69a"/>
<line x1="1126.50" y1="81.9" x2="1126.50" y2="88.7" stroke="#26a69a" stroke-width="1"/>
<rect x="1124.00" y="84.1" width="5" height="1.5" fill="#26a69a"/>
<line x1="1132.50" y1="83.1" x2="1132.50" y2="91.2" stroke="#ef5350" stroke-width="1"/>
<rect x="1130.00" y="84.1" width="5" height="7.1" fill="#ef5350"/>
<line x1="1138.50" y1="87.3" x2="1138.50" y2="97.6" stroke="#ef5350" stroke-width="1"/>
<rect x="1136.00" y="91.2" width="5" height="6.4" fill="#ef5350"/>
<line x1="1144.50" y1="90.3" x2="1144.50" y2="99.9" stroke="#26a69a" stroke-width="1"/>
<rect x="1142.00" y="93.4" width="5" height="4.2" fill="#26a69a"/>
<line x1="1150.50" y1="91.2" x2="1150.50" y2="96.2" stroke="#ef5350" stroke-width="1"/>
<rect x="1148.00" y="91.2" width="5" height="5.0" fill="#ef5350"/>
<line x1="11" y1="96.3" x2="1214" y2="96.3" stroke="#ef5350" stroke-width="1.2" stroke-dasharray="1.3 2.1"/>
<polyline points="6.5,196.0 12.5,200.0 18.5,204.6 24.5,208.0 30.5,210.0 36.5,208.8 42.5,204.1 48.5,197.9 54.5,191.2 60.5,185.0 66.5,179.4 72.5,175.2 78.5,168.0 84.5,161.6 90.5,154.0 97.5,144.0 103.5,135.5 109.5,128.5 115.5,123.8 121.5,122.1 127.5,119.9 133.5,117.6 139.5,114.5 145.5,107.5 151.5,100.0 157.5,97.5 163.5,97.9 169.5,98.8 175.5,97.8 181.5,97.0 187.5,94.8 193.5,90.3 199.5,86.2 205.5,83.3 211.5,80.7 217.5,79.5 223.5,78.6 229.5,79.5 235.5,79.8 241.5,79.8 247.5,79.8 253.5,76.9 259.5,80.6 265.5,83.3 271.5,84.2 277.5,84.2 283.5,85.6 289.5,89.6 295.5,94.0 301.5,98.6 307.5,101.1 313.5,100.8 319.5,100.6 325.5,101.1 331.5,99.5 337.5,98.6 343.5,100.3 349.5,103.3 355.5,101.1 361.5,100.3 367.5,99.5 373.5,97.8 379.5,102.8 385.5,109.5 391.5,113.7 397.5,117.9 403.5,122.1 409.5,125.5 415.5,128.0 422.5,128.3 428.5,129.7 434.5,126.3 440.5,122.6 446.5,123.8 452.5,123.0 458.5,122.5 464.5,122.1 470.5,121.3 476.5,117.1 482.5,116.3 488.5,118.4 494.5,119.6 500.5,120.1 506.5,119.6 512.5,119.1 518.5,118.8 524.5,118.8 530.5,121.3 536.5,123.3 542.5,122.1 548.5,121.0 554.5,120.1 560.5,119.6 566.5,120.0 572.5,120.4 578.5,120.0 584.5,121.3 590.5,124.6 596.5,127.6 602.5,128.8 608.5,130.0 614.5,129.7 620.5,126.3 626.5,118.7 632.5,112.9 638.5,107.0 644.5,103.0 650.5,101.8 656.5,100.4 662.5,98.1 668.5,92.4 674.5,85.2 680.5,79.8 686.5,77.7 692.5,78.3 698.5,79.5 704.5,80.2 710.5,79.4 716.5,77.2 722.5,76.1 728.5,74.5 734.5,73.3 740.5,74.5 747.5,75.3 753.5,77.3 759.5,78.3 765.5,79.5 771.5,81.5 777.5,82.9 783.5,83.4 789.5,82.7 795.5,80.4 801.5,77.9 807.5,75.8 813.5,72.8 819.5,70.3 825.5,68.6 831.5,67.3 837.5,66.6 843.5,66.4 849.5,66.9 855.5,67.8 861.5,68.6 867.5,72.3 873.5,76.2 879.5,79.2 885.5,82.1 891.5,84.9 897.5,87.1 903.5,87.4 909.5,87.9 915.5,88.8 921.5,88.5 927.5,92.8 933.5,94.9 939.5,95.2 945.5,96.7 951.5,98.4 957.5,99.9 963.5,99.9 969.5,99.9 975.5,99.9 981.5,102.1 987.5,103.8 993.5,104.6 999.5,104.1 1005.5,103.8 1011.5,102.9 1017.5,102.9 1023.5,101.3 1029.5,98.4 1035.5,99.6 1041.5,100.4 1047.5,100.1 1053.5,98.7 1059.5,97.9 1065.5,98.4 1072.5,97.4 1078.5,96.2 1084.5,95.7 1090.5,95.4 1096.5,95.0 1102.5,94.5 1108.5,94.5 1114.5,94.0 1120.5,92.0 1126.5,90.3 1132.5,90.3 1138.5,91.7 1144.5,92.0 1150.5,92.4" fill="none" stroke="#f23645" stroke-width="2.2" stroke-linejoin="round"/>
<g font-size="12" fill="#434651">
<text x="18.1" y="46.0" textLength="52.8" lengthAdjust="spacingAndGlyphs">Australian</text>
<text x="76.6" y="46.0" textLength="29.9" lengthAdjust="spacingAndGlyphs">Dollar</text>
<text x="112.6" y="46.0" textLength="4.0" lengthAdjust="spacingAndGlyphs">/</text>
<text x="121.3" y="46.0" textLength="48.7" lengthAdjust="spacingAndGlyphs">Japanese</text>
<text x="174.1" y="46.0" textLength="21.8" lengthAdjust="spacingAndGlyphs">Yen,</text>
<text x="200.9" y="46.0" textLength="16.3" lengthAdjust="spacingAndGlyphs">4h,</text>
<text x="222.3" y="46.0" textLength="28.0" lengthAdjust="spacingAndGlyphs">FXCM</text>
<text x="258.2" y="46.0" textLength="7.4" lengthAdjust="spacingAndGlyphs">O</text>
<text x="309.0" y="46.0" textLength="7.4" lengthAdjust="spacingAndGlyphs">H</text>
<text x="360.4" y="46.0" textLength="5.0" lengthAdjust="spacingAndGlyphs">L</text>
<text x="408.8" y="46.0" textLength="6.8" lengthAdjust="spacingAndGlyphs">C</text>
<text x="266.4" y="46.0" textLength="34.9" lengthAdjust="spacingAndGlyphs" fill="#ef5350">92.010</text>
<text x="317.2" y="46.0" textLength="35.1" lengthAdjust="spacingAndGlyphs" fill="#ef5350">92.014</text>
<text x="366.4" y="46.0" textLength="34.7" lengthAdjust="spacingAndGlyphs" fill="#ef5350">91.872</text>
<text x="416.4" y="46.0" textLength="35.2" lengthAdjust="spacingAndGlyphs" fill="#ef5350">91.872</text>
<text x="459.8" y="46.0" textLength="34.7" lengthAdjust="spacingAndGlyphs" fill="#ef5350">−0.138</text>
<text x="499.7" y="46.0" textLength="44.1" lengthAdjust="spacingAndGlyphs" fill="#ef5350">(−0.15%)</text>
<text x="18.1" y="62.8" textLength="21.3" lengthAdjust="spacingAndGlyphs">EMA</text>
<text x="45.2" y="62.8" textLength="12.9" lengthAdjust="spacingAndGlyphs">(9,</text>
<text x="62.5" y="62.8" textLength="31.0" lengthAdjust="spacingAndGlyphs">close)</text>
<text x="18.1" y="79.3" textLength="21.3" lengthAdjust="spacingAndGlyphs">EMA</text>
<text x="45.2" y="79.3" textLength="19.8" lengthAdjust="spacingAndGlyphs">(50,</text>
<text x="68.8" y="79.3" textLength="30.6" lengthAdjust="spacingAndGlyphs">close,</text>
<text x="104.0" y="79.3" textLength="9.5" lengthAdjust="spacingAndGlyphs">0,</text>
<text x="118.8" y="79.3" textLength="24.3" lengthAdjust="spacingAndGlyphs">EMA,</text>
<text x="149.4" y="79.3" textLength="9.3" lengthAdjust="spacingAndGlyphs">1)</text>
</g>
<line x1="11" y1="56.4" x2="1214" y2="56.4" stroke="#6133b5" stroke-width="2.9"/>
<line x1="11" y1="257.5" x2="1214" y2="257.5" stroke="#6133b5" stroke-width="2.8"/>
</g>
<g font-size="14" fill="#1e222d">
<text x="935.3" y="46.0" textLength="37.3" lengthAdjust="spacingAndGlyphs">Upper</text>
<text x="977.6" y="46.0" textLength="64.4" lengthAdjust="spacingAndGlyphs">Resistance</text>
<text x="1047.0" y="46.0" textLength="28.3" lengthAdjust="spacingAndGlyphs">Area</text>
<text x="255.3" y="285.6" textLength="36.2" lengthAdjust="spacingAndGlyphs">Lower</text>
<text x="297.5" y="285.6" textLength="47.5" lengthAdjust="spacingAndGlyphs">Support</text>
<text x="350.0" y="285.6" textLength="28.1" lengthAdjust="spacingAndGlyphs">Area</text>
<text x="1019.3" y="313.5" textLength="71.7" lengthAdjust="spacingAndGlyphs">Overbought</text>
<text x="1097.0" y="313.5" textLength="39.7" lengthAdjust="spacingAndGlyphs">Region</text>
<text x="1043.1" y="514.7" textLength="53.4" lengthAdjust="spacingAndGlyphs">Oversold</text>
<text x="1102.8" y="514.7" textLength="39.9" lengthAdjust="spacingAndGlyphs">Region</text>
</g>
<g font-size="12" fill="#434651">
<text x="18.1" y="283.0" textLength="28.5" lengthAdjust="spacingAndGlyphs">Stoch</text>
<text x="52.4" y="283.0" textLength="20.7" lengthAdjust="spacingAndGlyphs">(14,</text>
<text x="76.9" y="283.0" textLength="7.5" lengthAdjust="spacingAndGlyphs">1,</text>
<text x="90.0" y="283.0" textLength="10.8" lengthAdjust="spacingAndGlyphs">3)</text>
</g>
<g clip-path="url(#cs)">
<polyline points="6.5,503.5 12.5,500.9 18.5,483.3 24.5,479.0 30.5,480.0 36.5,450.5 42.5,434.1 48.5,415.2 54.5,377.6 60.5,340.0 66.5,307.3 72.5,306.0 78.5,293.4 84.5,293.4 90.5,306.0 97.5,297.7 103.5,298.5 109.5,301.0 115.5,312.9 121.5,337.6 127.5,326.0 133.5,322.2 139.5,324.2 145.5,301.0 151.5,301.0 157.5,350.7 163.5,386.0 169.5,410.0 175.5,393.2 181.5,421.5 187.5,386.0 193.5,357.0 199.5,331.3 205.5,339.3 211.5,323.4 217.5,358.2 223.5,341.8 229.5,379.1 235.5,383.7 241.5,370.2 247.5,377.0 253.5,323.6 259.5,470.2 265.5,444.2 271.5,432.3 277.5,404.3 283.5,442.9 289.5,475.7 295.5,509.2 301.5,493.9 307.5,489.1 313.5,417.3 319.5,425.2 325.5,429.2 331.5,374.0 337.5,411.2 343.5,407.7 349.5,472.4 355.5,350.1 361.5,365.0 367.5,353.1 373.5,348.1 379.5,437.0 385.5,506.7 391.5,494.1 397.5,500.2 403.5,485.3 409.5,496.6 415.5,475.7 422.5,430.3 428.5,462.6 434.5,370.2 440.5,368.7 446.5,435.4 452.5,393.5 458.5,392.8 464.5,354.9 470.5,339.2 476.5,314.5 482.5,363.2 488.5,403.0 494.5,402.3 500.5,420.7 506.5,409.8 512.5,404.0 518.5,408.6 524.5,403.7 530.5,458.1 536.5,474.4 542.5,413.8 548.5,397.2 554.5,410.3 560.5,364.4 566.5,390.2 572.5,394.2 578.5,361.4 584.5,451.3 590.5,422.6 596.5,430.2 602.5,394.3 608.5,407.8 614.5,388.9 620.5,329.2 626.5,297.1 632.5,298.9 638.5,301.4 644.5,322.9 650.5,353.1 656.5,348.1 662.5,332.9 668.5,300.7 674.5,299.4 680.5,298.1 686.5,340.5 692.5,367.0 698.5,382.1 704.5,401.0 710.5,385.9 716.5,369.5 722.5,405.3 728.5,372.0 734.5,366.2 740.5,417.3 747.5,421.3 753.5,482.0 759.5,437.9 765.5,463.1 771.5,490.1 777.5,485.3 783.5,446.0 789.5,427.8 795.5,355.6 801.5,329.7 807.5,343.0 813.5,297.1 819.5,290.8 825.5,320.8 831.5,336.0 837.5,363.9 843.5,341.8 849.5,372.5 855.5,384.1 861.5,401.2 867.5,506.7 873.5,492.1 879.5,483.0 885.5,502.2 891.5,471.2 897.5,499.7 903.5,442.9 909.5,458.1 915.5,470.7 921.5,426.6 927.5,504.7 933.5,475.7 939.5,427.3 945.5,466.4 951.5,440.4 957.5,443.4 963.5,411.9 969.5,413.4 975.5,409.4 981.5,500.2 987.5,442.2 993.5,471.9 999.5,419.5 1005.5,420.0 1011.5,340.5 1017.5,404.4 1023.5,325.4 1029.5,296.4 1035.5,413.7 1041.5,450.5 1047.5,387.0 1053.5,322.9 1059.5,368.2 1065.5,413.7 1072.5,361.9 1078.5,338.0 1084.5,369.4 1090.5,329.1 1096.5,360.0 1102.5,355.0 1108.5,361.0 1114.5,343.6 1120.5,308.0 1126.5,307.3 1132.5,364.0 1138.5,422.3 1144.5,369.3 1150.5,428.6" fill="none" stroke="#2962ff" stroke-width="1.1" stroke-linejoin="round"/>
<polyline points="6.5,509.4 12.5,504.7 18.5,495.9 24.5,487.7 30.5,480.8 36.5,469.8 42.5,454.9 48.5,433.3 54.5,409.0 60.5,377.6 66.5,341.6 72.5,317.8 78.5,302.2 84.5,297.6 90.5,297.6 97.5,299.0 103.5,300.7 109.5,299.1 115.5,304.1 121.5,317.2 127.5,325.5 133.5,328.6 139.5,324.1 145.5,315.8 151.5,308.7 157.5,317.6 163.5,345.9 169.5,382.2 175.5,396.4 181.5,408.2 187.5,400.2 193.5,388.2 199.5,358.1 205.5,342.5 211.5,331.3 217.5,340.3 223.5,341.1 229.5,359.7 235.5,368.2 241.5,377.7 247.5,377.0 253.5,356.9 259.5,390.3 265.5,412.7 271.5,448.9 277.5,426.9 283.5,426.5 289.5,441.0 295.5,475.9 301.5,492.9 307.5,497.4 313.5,466.8 319.5,443.9 325.5,423.9 331.5,409.5 337.5,404.8 343.5,397.6 349.5,430.4 355.5,410.1 361.5,395.8 367.5,356.1 373.5,355.4 379.5,379.4 385.5,430.6 391.5,479.3 397.5,500.3 403.5,493.2 409.5,494.0 415.5,485.9 422.5,467.5 428.5,456.2 434.5,421.0 440.5,400.5 446.5,391.4 452.5,399.2 458.5,407.2 464.5,380.4 470.5,362.3 476.5,336.2 482.5,339.0 488.5,360.2 494.5,389.5 500.5,408.7 506.5,410.9 512.5,411.5 518.5,407.5 524.5,405.4 530.5,423.5 536.5,445.4 542.5,448.8 548.5,428.5 554.5,407.1 560.5,390.6 566.5,388.3 572.5,382.9 578.5,381.9 584.5,402.3 590.5,411.8 596.5,434.7 602.5,415.7 608.5,410.8 614.5,397.0 620.5,375.3 626.5,338.4 632.5,308.4 638.5,299.1 644.5,307.7 650.5,325.8 656.5,341.4 662.5,344.7 668.5,327.2 674.5,311.0 680.5,299.4 686.5,312.7 692.5,335.2 698.5,363.2 704.5,383.4 710.5,389.7 716.5,385.5 722.5,386.9 728.5,382.3 734.5,381.2 740.5,385.2 747.5,401.6 753.5,440.2 759.5,447.1 765.5,461.0 771.5,463.7 777.5,479.5 783.5,473.8 789.5,453.0 795.5,409.8 801.5,371.0 807.5,342.8 813.5,323.3 819.5,310.3 825.5,302.9 831.5,315.9 837.5,340.2 843.5,347.2 849.5,359.4 855.5,366.1 861.5,385.9 867.5,430.7 873.5,466.7 879.5,493.9 885.5,492.4 891.5,485.5 897.5,491.0 903.5,471.3 909.5,466.9 915.5,457.2 921.5,451.8 927.5,467.3 933.5,469.0 939.5,469.2 945.5,456.5 951.5,444.7 957.5,450.1 963.5,431.9 969.5,422.9 975.5,411.6 981.5,441.0 987.5,450.6 993.5,471.4 999.5,444.5 1005.5,437.1 1011.5,393.3 1017.5,388.3 1023.5,356.8 1029.5,342.1 1035.5,345.2 1041.5,386.9 1047.5,417.1 1053.5,386.8 1059.5,359.4 1065.5,368.3 1072.5,381.3 1078.5,371.2 1084.5,356.4 1090.5,345.5 1096.5,352.8 1102.5,348.0 1108.5,358.7 1114.5,353.2 1120.5,337.5 1126.5,319.6 1132.5,326.4 1138.5,364.5 1144.5,385.2 1150.5,406.7" fill="none" stroke="#ff6d00" stroke-width="1.1" stroke-linejoin="round"/>
</g>
<path d="M503.7 58.7 H556.1 Q563.1 58.7 563.1 65.7 V84.3 L596.3 117.6 L554.6 93.3 H503.7 Q496.7 93.3 496.7 86.3 V65.7 Q496.7 58.7 503.7 58.7 Z" fill="rgba(41,98,255,0.75)" stroke="#2a9db5" stroke-width="1"/>
<text x="530" y="79.7" font-size="13.6" fill="#2a2e39" text-anchor="middle" textLength="45" lengthAdjust="spacingAndGlyphs">EMA-50</text>
<path d="M635.2 166.8 H678.6 Q685.6 166.8 685.6 173.8 V193 Q685.6 200 678.6 200 H634.1 Q627.1 200 627.1 193 V173.8 L604.9 133.5 Z" fill="rgba(242,54,69,0.75)" stroke="#3a95a5" stroke-width="1"/>
<text x="656.6" y="187.4" font-size="13.4" fill="#2a2e39" text-anchor="middle" textLength="38" lengthAdjust="spacingAndGlyphs">EMA-9</text>
<circle cx="1150.4" cy="250.4" r="11" fill="#fff"/>
<circle cx="1150.4" cy="250.4" r="9.5" fill="#fff" stroke="#9c27b0" stroke-width="1.4"/>
<path d="M1153.6 245.1 L1146.3 250.5 L1150.4 251.1 L1147.2 255.7 L1154.6 250.4 L1150.7 249.7 Z" fill="#9c27b0"/>
<circle cx="1197.9" cy="250" r="10.6" fill="#fff"/>
<circle cx="1197.9" cy="250" r="9.9" fill="#fff" stroke="#f23645" stroke-width="1.4"/>
<circle cx="1197.9" cy="250" r="8.1" fill="#0d47a1"/>
<circle cx="1191.9" cy="250" r="10.6" fill="#fff"/>
<circle cx="1191.9" cy="250" r="9.9" fill="#fff" stroke="#f23645" stroke-width="1.4"/>
<circle cx="1191.9" cy="250" r="8.1" fill="#0d47a1"/>
<path d="M1183.8 250 A8.1 8.1 0 0 1 1191.9 241.9 V250 Z" fill="#fff"/>
<path d="M1185.8 243.6 H1191.3 M1186.1 243.4 V248.6 M1187 245.2 L1191.5 249.4" stroke="#f23645" stroke-width="1.2" fill="none"/>
<circle cx="1188.4" cy="253.6" r="1.5" fill="#fff"/>
<circle cx="1195.8" cy="246.5" r="0.9" fill="#fff"/>
<circle cx="1197.5" cy="248.6" r="0.8" fill="#fff"/>
<circle cx="1193.6" cy="249.3" r="0.8" fill="#fff"/>
<circle cx="1195.8" cy="254.3" r="0.8" fill="#fff"/>
<circle cx="1203.6" cy="248.8" r="0.8" fill="#fff"/>
<rect x="10" y="27" width="1260" height="533" fill="none" stroke="#f0f3fa" stroke-width="2"/>
<line x1="1214.5" y1="28" x2="1214.5" y2="559" stroke="#4b4e5a" stroke-width="1.1"/>
<line x1="11" y1="532.4" x2="1269" y2="532.4" stroke="#4b4e5a" stroke-width="1.1"/>
<g font-size="12" fill="#434651">
<text x="1224.1" y="45.2" textLength="18.5" lengthAdjust="spacingAndGlyphs">JPY</text>
<text x="1224.3" y="95.7" textLength="35.3" lengthAdjust="spacingAndGlyphs">92.000</text>
<text x="1224.3" y="134.8" textLength="35.3" lengthAdjust="spacingAndGlyphs">91.000</text>
<text x="1224.3" y="173.8" textLength="35.3" lengthAdjust="spacingAndGlyphs">90.000</text>
<text x="1224.3" y="212.8" textLength="35.3" lengthAdjust="spacingAndGlyphs">89.000</text>
<text x="1224.3" y="252.6" textLength="35.3" lengthAdjust="spacingAndGlyphs">88.000</text>
<text x="1224.3" y="293.5" textLength="35.5" lengthAdjust="spacingAndGlyphs">100.00</text>
<text x="1224.3" y="338.9" textLength="29.0" lengthAdjust="spacingAndGlyphs">80.00</text>
<text x="1224.3" y="383.8" textLength="29.0" lengthAdjust="spacingAndGlyphs">60.00</text>
<text x="1224.3" y="428.8" textLength="29.0" lengthAdjust="spacingAndGlyphs">40.00</text>
<text x="1224.3" y="474.0" textLength="29.0" lengthAdjust="spacingAndGlyphs">20.00</text>
<text x="1224.3" y="518.6" textLength="22.5" lengthAdjust="spacingAndGlyphs">0.00</text>
</g>
<path d="M1214.5 50.2 H1264.0 Q1266.0 50.2 1266.0 52.2 V62.7 Q1266.0 64.7 1264.0 64.7 H1214.5 Z" fill="url(#pg)"/><line x1="1214.5" y1="47.5" x2="1214.5" y2="50.5" stroke="#673ab7" stroke-width="1.1"/>
<path d="M1214.5 88.0 H1264.0 Q1266.0 88.0 1266.0 90.0 V102.7 Q1266.0 104.7 1264.0 104.7 H1214.5 Z" fill="#ef5350"/>
<path d="M1214.5 246.9 H1264.0 Q1266.0 246.9 1266.0 248.9 V260.7 Q1266.0 262.7 1264.0 262.7 H1214.5 Z" fill="#673ab7"/>
<g font-size="12.4" fill="#fff" font-weight="bold">
<text x="1224.4" y="60.9" textLength="35.6" lengthAdjust="spacingAndGlyphs">92.898</text>
<text x="1224.4" y="100.9" textLength="35.6" lengthAdjust="spacingAndGlyphs">91.872</text>
<text x="1224.4" y="259.6" textLength="35.6" lengthAdjust="spacingAndGlyphs">87.759</text>
</g>
<g font-size="12" fill="#434651" text-anchor="middle">
<text x="78.5" y="550" textLength="11.8" lengthAdjust="spacingAndGlyphs">23</text>
<text x="187.5" y="550" textLength="11.8" lengthAdjust="spacingAndGlyphs">26</text>
<text x="331.4" y="550" textLength="19.9" lengthAdjust="spacingAndGlyphs" font-weight="bold">Feb</text>
<text x="439.6" y="550" textLength="5.8" lengthAdjust="spacingAndGlyphs">6</text>
<text x="530.0" y="550" textLength="29.0" lengthAdjust="spacingAndGlyphs">15:00</text>
<text x="620.5" y="550" textLength="11.8" lengthAdjust="spacingAndGlyphs">13</text>
<text x="710.4" y="550" textLength="29.0" lengthAdjust="spacingAndGlyphs">15:00</text>
<text x="801.3" y="550" textLength="11.8" lengthAdjust="spacingAndGlyphs">20</text>
<text x="909.2" y="550" textLength="11.8" lengthAdjust="spacingAndGlyphs">23</text>
<text x="1053.5" y="550" textLength="20.5" lengthAdjust="spacingAndGlyphs" font-weight="bold">Mar</text>
<text x="1162.0" y="550" textLength="5.8" lengthAdjust="spacingAndGlyphs">6</text>
</g>
<path d="M10 572.3 H18.3 V581.5 H13.6 V575.7 H10 Z M23.5 572.3 H29.5 L26 581.5 H20.9 Z" fill="#131722"/><circle cx="20.9" cy="573.9" r="1.7" fill="#131722"/>
<text x="32.9" y="581.5" font-size="12.6" fill="#131722" textLength="70" lengthAdjust="spacingAndGlyphs">TradingView</text>
</svg></body></html>
